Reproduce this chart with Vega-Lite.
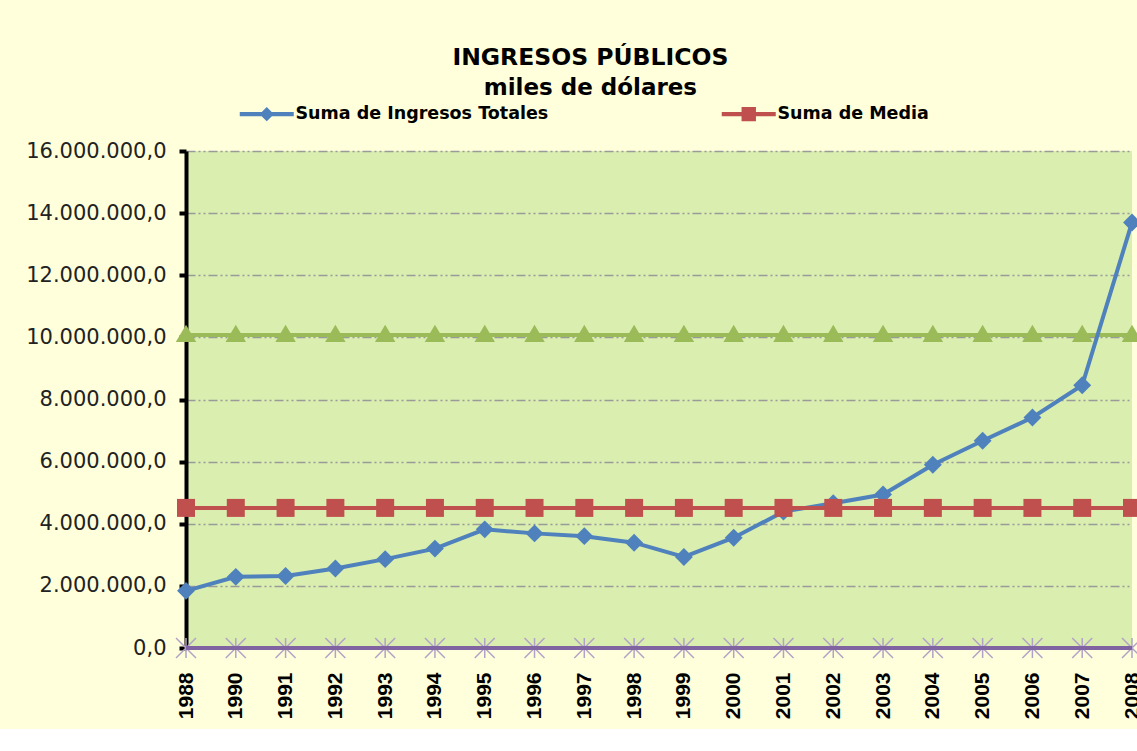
{
  "$schema": "https://vega.github.io/schema/vega-lite/v6.json",
  "width": 946,
  "height": 497,
  "padding": {"left": 25, "top": 45, "right": 0, "bottom": 10},
  "background": "#FFFFDB",
  "title": {
    "text": "INGRESOS PÚBLICOS",
    "subtitle": "miles de dólares",
    "font": "DejaVu Sans",
    "fontSize": 23.5,
    "fontWeight": "bold",
    "color": "#000000",
    "subtitleFont": "DejaVu Sans",
    "subtitleFontSize": 23,
    "subtitleFontWeight": "bold",
    "subtitleColor": "#000000",
    "subtitlePadding": 8,
    "anchor": "middle",
    "frame": "bounds",
    "dx": 5,
    "offset": 5
  },
  "config": {
    "locale": {"number": {"decimal": ",", "thousands": ".", "grouping": [3], "currency": ["", " $"]}},
    "view": {"fill": "#DAEEAF", "stroke": null}
  },
  "data": {
    "values": [
      {"year": "1988", "Suma de Ingresos Totales": 1840000, "Suma de Media": 4510000, "Suma de Máximo": 10080000, "Suma de Mínimo": 0},
      {"year": "1990", "Suma de Ingresos Totales": 2290000, "Suma de Media": 4510000, "Suma de Máximo": 10080000, "Suma de Mínimo": 0},
      {"year": "1991", "Suma de Ingresos Totales": 2320000, "Suma de Media": 4510000, "Suma de Máximo": 10080000, "Suma de Mínimo": 0},
      {"year": "1992", "Suma de Ingresos Totales": 2560000, "Suma de Media": 4510000, "Suma de Máximo": 10080000, "Suma de Mínimo": 0},
      {"year": "1993", "Suma de Ingresos Totales": 2860000, "Suma de Media": 4510000, "Suma de Máximo": 10080000, "Suma de Mínimo": 0},
      {"year": "1994", "Suma de Ingresos Totales": 3200000, "Suma de Media": 4510000, "Suma de Máximo": 10080000, "Suma de Mínimo": 0},
      {"year": "1995", "Suma de Ingresos Totales": 3820000, "Suma de Media": 4510000, "Suma de Máximo": 10080000, "Suma de Mínimo": 0},
      {"year": "1996", "Suma de Ingresos Totales": 3690000, "Suma de Media": 4510000, "Suma de Máximo": 10080000, "Suma de Mínimo": 0},
      {"year": "1997", "Suma de Ingresos Totales": 3600000, "Suma de Media": 4510000, "Suma de Máximo": 10080000, "Suma de Mínimo": 0},
      {"year": "1998", "Suma de Ingresos Totales": 3390000, "Suma de Media": 4510000, "Suma de Máximo": 10080000, "Suma de Mínimo": 0},
      {"year": "1999", "Suma de Ingresos Totales": 2930000, "Suma de Media": 4510000, "Suma de Máximo": 10080000, "Suma de Mínimo": 0},
      {"year": "2000", "Suma de Ingresos Totales": 3550000, "Suma de Media": 4510000, "Suma de Máximo": 10080000, "Suma de Mínimo": 0},
      {"year": "2001", "Suma de Ingresos Totales": 4390000, "Suma de Media": 4510000, "Suma de Máximo": 10080000, "Suma de Mínimo": 0},
      {"year": "2002", "Suma de Ingresos Totales": 4660000, "Suma de Media": 4510000, "Suma de Máximo": 10080000, "Suma de Mínimo": 0},
      {"year": "2003", "Suma de Ingresos Totales": 4940000, "Suma de Media": 4510000, "Suma de Máximo": 10080000, "Suma de Mínimo": 0},
      {"year": "2004", "Suma de Ingresos Totales": 5900000, "Suma de Media": 4510000, "Suma de Máximo": 10080000, "Suma de Mínimo": 0},
      {"year": "2005", "Suma de Ingresos Totales": 6670000, "Suma de Media": 4510000, "Suma de Máximo": 10080000, "Suma de Mínimo": 0},
      {"year": "2006", "Suma de Ingresos Totales": 7420000, "Suma de Media": 4510000, "Suma de Máximo": 10080000, "Suma de Mínimo": 0},
      {"year": "2007", "Suma de Ingresos Totales": 8460000, "Suma de Media": 4510000, "Suma de Máximo": 10080000, "Suma de Mínimo": 0},
      {"year": "2008", "Suma de Ingresos Totales": 13700000, "Suma de Media": 4510000, "Suma de Máximo": 10080000, "Suma de Mínimo": 0}
    ]
  },
  "transform": [
    {"fold": ["Suma de Ingresos Totales", "Suma de Media", "Suma de Máximo", "Suma de Mínimo"], "as": ["series", "value"]}
  ],
  "encoding": {
    "x": {
      "field": "year", "type": "ordinal",
      "scale": {"type": "point", "padding": 0},
      "axis": {
        "title": null, "domain": false, "ticks": false, "grid": false,
        "labelAngle": 270, "labelAlign": "right", "labelBaseline": "middle",
        "labelFont": "Liberation Sans", "labelFontWeight": "bold", "labelFontSize": 21,
        "labelColor": "#000000", "labelPadding": 24
      }
    },
    "y": {
      "field": "value", "type": "quantitative",
      "scale": {"domain": [0, 16000000], "nice": false, "zero": true},
      "axis": {
        "title": null,
        "values": [0, 2000000, 4000000, 6000000, 8000000, 10000000, 12000000, 14000000, 16000000],
        "format": ",.1f",
        "labelFont": "DejaVu Sans", "labelFontSize": 21, "labelColor": "#222222", "labelPadding": 13,
        "domainColor": "#000000", "domainWidth": 4,
        "tickColor": "#000000", "tickWidth": 4, "tickSize": 7,
        "grid": true, "gridColor": "#9A9A9A", "gridWidth": 1.5, "gridDash": [9, 3, 2, 3, 2, 3]
      }
    }
  },
  "layer": [
    {
      "transform": [{"filter": "datum.series === 'Suma de Máximo'"}],
      "mark": {"type": "line", "strokeWidth": 4},
      "encoding": {
        "color": {
          "field": "series", "type": "nominal",
          "scale": {
            "domain": ["Suma de Ingresos Totales", "Suma de Media", "Suma de Máximo", "Suma de Mínimo"],
            "range": ["#4F81BD", "#C0504D", "#9BBB59", "#8064A2"]
          },
          "legend": {
            "values": ["Suma de Ingresos Totales", "Suma de Media"],
            "title": null,
            "orient": "none",
            "legendX": 72,
            "legendY": -46,
            "direction": "horizontal",
            "symbolSize": 81,
            "labelFont": "DejaVu Sans", "labelFontWeight": "bold", "labelFontSize": 17.5, "labelColor": "#000000",
            "labelLimit": 0,
            "labelOffset": 20,
            "columnPadding": 172,
            "encode": {
              "symbols": {
                "update": {
                  "shape": {"signal": "datum.value === 'Suma de Ingresos Totales' ? 'M-6,-0.45H6V0.45H-6Z M0,-1.6L1.6,0L0,1.6L-1.6,0Z' : 'M-6,-0.45H6V0.45H-6Z M-1.6,-1.6H1.6V1.6H-1.6Z'"},
                  "fill": {"scale": "color", "field": "value"},
                  "strokeWidth": {"value": 0},
                  "opacity": {"value": 1}
                }
              }
            }
          }
        }
      }
    },
    {
      "transform": [{"filter": "datum.series === 'Suma de Máximo'"}],
      "mark": {"type": "point", "filled": true, "opacity": 1, "size": 420, "color": "#9BBB59", "shape": "M-1,0.7L0,-1L1,0.7Z"}
    },
    {
      "transform": [{"filter": "datum.series === 'Suma de Mínimo'"}],
      "mark": {"type": "point", "filled": false, "opacity": 1, "size": 400, "color": "#B3A2C7", "strokeWidth": 1.5, "shape": "M-1,-1L1,1M1,-1L-1,1M0,-1L0,1"}
    },
    {
      "transform": [{"filter": "datum.series === 'Suma de Mínimo'"}],
      "mark": {"type": "line", "strokeWidth": 4},
      "encoding": {"color": {"field": "series", "type": "nominal"}}
    },
    {
      "transform": [{"filter": "datum.series === 'Suma de Ingresos Totales'"}],
      "mark": {"type": "line", "strokeWidth": 4},
      "encoding": {"color": {"field": "series", "type": "nominal"}}
    },
    {
      "transform": [{"filter": "datum.series === 'Suma de Ingresos Totales'"}],
      "mark": {"type": "point", "filled": true, "opacity": 1, "size": 320, "color": "#4F81BD", "shape": "diamond"}
    },
    {
      "transform": [{"filter": "datum.series === 'Suma de Media'"}],
      "mark": {"type": "line", "strokeWidth": 4},
      "encoding": {"color": {"field": "series", "type": "nominal"}}
    },
    {
      "transform": [{"filter": "datum.series === 'Suma de Media'"}],
      "mark": {"type": "point", "filled": true, "opacity": 1, "size": 324, "color": "#C0504D", "shape": "square"}
    }
  ]
}
